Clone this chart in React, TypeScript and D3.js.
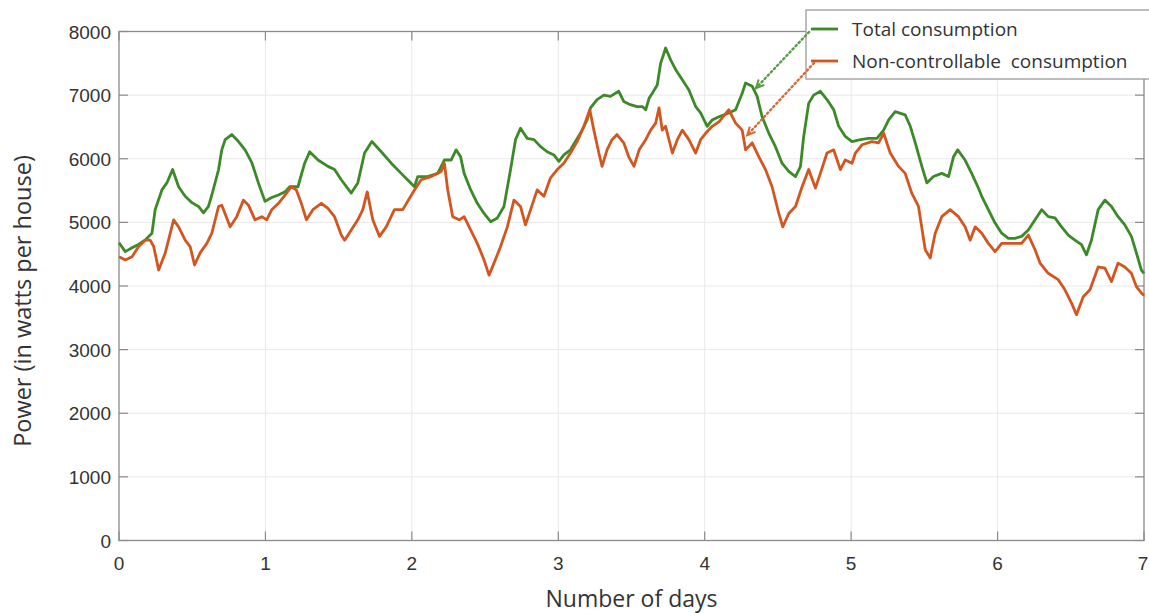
import React from "react";
import * as d3 from "d3";

// Total household consumption over a week (days, watts per house)
const totalDays = [
  0, 0.043, 0.089, 0.13, 0.177, 0.225, 0.247, 0.293, 0.327, 0.366, 0.407, 0.452, 0.498, 0.543, 0.577,
  0.611, 0.634, 0.68, 0.702, 0.725, 0.77, 0.816, 0.861, 0.907, 0.952, 0.997, 1.043, 1.089, 1.134, 1.166,
  1.222, 1.268, 1.302, 1.359, 1.427, 1.472, 1.518, 1.586, 1.631, 1.677, 1.727, 1.791, 1.859, 1.927, 1.984,
  2.018, 2.04, 2.108, 2.177, 2.222, 2.268, 2.302, 2.333, 2.357, 2.402, 2.447, 2.493, 2.538, 2.584, 2.629,
  2.674, 2.708, 2.742, 2.788, 2.834, 2.879, 2.924, 2.97, 3.004, 3.038, 3.083, 3.151, 3.197, 3.22, 3.265,
  3.311, 3.356, 3.413, 3.447, 3.492, 3.538, 3.574, 3.597, 3.62, 3.642, 3.676, 3.699, 3.733, 3.768, 3.802,
  3.847, 3.892, 3.938, 3.972, 4.017, 4.051, 4.097, 4.165, 4.211, 4.256, 4.279, 4.324, 4.358, 4.392, 4.438,
  4.483, 4.528, 4.574, 4.62, 4.654, 4.676, 4.71, 4.744, 4.79, 4.835, 4.881, 4.915, 4.96, 5.006, 5.063,
  5.119, 5.176, 5.222, 5.256, 5.301, 5.369, 5.404, 5.438, 5.483, 5.517, 5.562, 5.619, 5.665, 5.699, 5.728,
  5.778, 5.823, 5.869, 5.892, 5.937, 5.983, 6.028, 6.074, 6.119, 6.164, 6.21, 6.256, 6.301, 6.346, 6.392,
  6.437, 6.483, 6.528, 6.573, 6.607, 6.641, 6.687, 6.733, 6.778, 6.823, 6.869, 6.914, 6.948, 6.982, 7,
];
const totalWatts = [
  4680, 4540, 4600, 4650, 4720, 4830, 5200, 5510, 5620, 5830, 5560, 5410, 5310, 5250, 5150,
  5250, 5430, 5830, 6140, 6300, 6380, 6270, 6140, 5940, 5620, 5330, 5390, 5430, 5480, 5560,
  5560, 5930, 6110, 5980, 5880, 5830, 5670, 5460, 5620, 6090, 6270, 6110, 5930, 5770, 5640,
  5560, 5720, 5720, 5770, 5980, 5980, 6140, 6030, 5770, 5510, 5300, 5140, 5010, 5070, 5250,
  5830, 6300, 6480, 6320, 6300, 6190, 6110, 6060, 5960, 6060, 6140, 6400, 6610, 6800, 6930,
  7000, 6980, 7060, 6900, 6850, 6820, 6820, 6770, 6950, 7030, 7160, 7500, 7740, 7550, 7400,
  7240, 7080, 6820, 6720, 6510, 6610, 6660, 6720, 6770, 7030, 7190, 7140, 6980, 6660, 6400,
  6190, 5930, 5800, 5720, 5880, 6350, 6870, 7000, 7060, 6930, 6770, 6510, 6350, 6270, 6300,
  6320, 6320, 6450, 6610, 6740, 6690, 6510, 6250, 5880, 5620, 5720, 5770, 5720, 6030, 6140,
  5980, 5770, 5540, 5410, 5200, 4990, 4830, 4750, 4750, 4780, 4880, 5040, 5200, 5090, 5070,
  4930, 4800, 4720, 4650, 4490, 4720, 5200, 5350, 5250, 5090, 4960, 4780, 4520, 4250, 4200,
];

// Non-controllable share of the consumption
const baseDays = [
  0, 0.043, 0.089, 0.134, 0.179, 0.213, 0.237, 0.271, 0.316, 0.373, 0.407, 0.452, 0.486, 0.516, 0.554,
  0.6, 0.634, 0.68, 0.702, 0.759, 0.804, 0.85, 0.884, 0.929, 0.975, 1.009, 1.043, 1.089, 1.134, 1.177,
  1.211, 1.245, 1.28, 1.324, 1.382, 1.427, 1.472, 1.518, 1.541, 1.586, 1.631, 1.665, 1.695, 1.733, 1.779,
  1.825, 1.881, 1.938, 1.984, 2.018, 2.063, 2.132, 2.2, 2.222, 2.245, 2.279, 2.324, 2.357, 2.402, 2.447,
  2.493, 2.527, 2.561, 2.606, 2.652, 2.697, 2.742, 2.776, 2.811, 2.856, 2.902, 2.947, 2.993, 3.038, 3.083,
  3.129, 3.175, 3.215, 3.243, 3.277, 3.299, 3.333, 3.367, 3.401, 3.447, 3.481, 3.517, 3.552, 3.597, 3.631,
  3.665, 3.688, 3.71, 3.733, 3.779, 3.813, 3.847, 3.892, 3.938, 3.972, 4.006, 4.051, 4.097, 4.165, 4.211,
  4.256, 4.279, 4.324, 4.37, 4.415, 4.46, 4.506, 4.533, 4.574, 4.62, 4.665, 4.71, 4.756, 4.79, 4.835,
  4.881, 4.926, 4.96, 5.006, 5.029, 5.074, 5.142, 5.187, 5.222, 5.267, 5.324, 5.369, 5.414, 5.46, 5.506,
  5.54, 5.574, 5.619, 5.676, 5.733, 5.778, 5.813, 5.847, 5.892, 5.937, 5.983, 6.028, 6.096, 6.164, 6.21,
  6.256, 6.29, 6.346, 6.414, 6.46, 6.505, 6.539, 6.585, 6.631, 6.687, 6.733, 6.778, 6.823, 6.869, 6.914,
  6.948, 6.982, 7,
];
const baseWatts = [
  4460, 4410, 4460, 4620, 4720, 4720, 4620, 4250, 4520, 5040, 4930, 4720, 4620, 4330, 4520,
  4670, 4830, 5250, 5270, 4930, 5090, 5350, 5270, 5040, 5090, 5040, 5200, 5300, 5430, 5560,
  5510, 5300, 5040, 5200, 5300, 5220, 5090, 4800, 4720, 4880, 5040, 5200, 5480, 5040, 4780,
  4930, 5200, 5200, 5380, 5510, 5670, 5720, 5800, 5930, 5510, 5090, 5040, 5090, 4880, 4670,
  4410, 4170, 4360, 4620, 4930, 5350, 5250, 4960, 5200, 5510, 5410, 5700, 5830, 5930, 6090,
  6270, 6510, 6770, 6450, 6090, 5880, 6140, 6300, 6380, 6250, 6030, 5880, 6140, 6300, 6450,
  6560, 6800, 6450, 6510, 6090, 6300, 6450, 6300, 6090, 6300, 6400, 6510, 6580, 6770, 6560,
  6450, 6140, 6250, 6030, 5830, 5560, 5140, 4930, 5140, 5250, 5560, 5830, 5540, 5770, 6090,
  6140, 5830, 5980, 5930, 6090, 6220, 6270, 6250, 6400, 6090, 5880, 5770, 5460, 5250, 4570,
  4440, 4830, 5090, 5200, 5090, 4930, 4720, 4930, 4830, 4670, 4540, 4670, 4670, 4670, 4800,
  4570, 4360, 4200, 4100, 3940, 3730, 3550, 3830, 3940, 4300, 4280, 4070, 4360, 4300, 4200,
  3990, 3890, 3850,
];

const xTicks = [0, 1, 2, 3, 4, 5, 6, 7];
const yTicks = [0, 1000, 2000, 3000, 4000, 5000, 6000, 7000, 8000];

const legendLabels = ["Total consumption", "Non-controllable  consumption"];

const W = 1149;
const H = 613;
const plot = { left: 119, right: 1144, top: 31.5, bottom: 540.5 };

const GREEN = "#3b8a27";
const ORANGE = "#d25620";
const AXIS = "#8a8a8a";
const TEXT = "#333333";

export default function App() {
  const x = d3.scaleLinear().domain([0, 7]).range([plot.left, plot.right]);
  const y = d3.scaleLinear().domain([0, 8000]).range([plot.bottom, plot.top]);

  const line = d3
    .line<[number, number]>()
    .x((d) => x(d[0]))
    .y((d) => y(d[1]));

  const totalPts = totalDays.map((d, i) => [d, totalWatts[i]] as [number, number]);
  const basePts = baseDays.map((d, i) => [d, baseWatts[i]] as [number, number]);

  // legend geometry
  const lg = { x: 806, y: 10, w: 360, h: 69 };
  const row1 = 29;
  const row2 = 61;

  // annotation arrows from the legend keys to the curves
  const greenTip = [x(4.35), y(7110)];
  const orangeTip = [x(4.29), y(6370)];
  const greenTail = [809, row1 + 3];
  const orangeTail = [814, row2 + 2];

  const arrowHead = (tail: number[], tip: number[], color: string) => {
    const ang = Math.atan2(tip[1] - tail[1], tip[0] - tail[0]);
    const len = 9;
    const spread = 0.45;
    const p1 = [tip[0] - len * Math.cos(ang - spread), tip[1] - len * Math.sin(ang - spread)];
    const p2 = [tip[0] - len * Math.cos(ang + spread), tip[1] - len * Math.sin(ang + spread)];
    return (
      <polyline
        points={`${p1[0]},${p1[1]} ${tip[0]},${tip[1]} ${p2[0]},${p2[1]}`}
        fill="none"
        stroke={color}
        strokeWidth={2}
      />
    );
  };

  return (
    <div style={{ position: "absolute", left: 0, top: 0 }}>
      <svg width={W} height={H} style={{ display: "block", background: "#fff" }}>
        {/* grid */}
        <g stroke="#e9e9e9" strokeWidth={1}>
          {xTicks.slice(1, -1).map((t) => (
            <line key={"gx" + t} x1={x(t)} x2={x(t)} y1={plot.top} y2={plot.bottom} />
          ))}
          {yTicks.slice(1, -1).map((t) => (
            <line key={"gy" + t} x1={plot.left} x2={plot.right} y1={y(t)} y2={y(t)} />
          ))}
        </g>

        {/* box and ticks */}
        <rect
          x={plot.left}
          y={plot.top}
          width={plot.right - plot.left}
          height={plot.bottom - plot.top}
          fill="none"
          stroke={AXIS}
          strokeWidth={1.3}
        />
        <g stroke={AXIS} strokeWidth={1.2}>
          {xTicks.map((t) => (
            <g key={"tx" + t}>
              <line x1={x(t)} x2={x(t)} y1={plot.bottom} y2={plot.bottom - 9} />
              <line x1={x(t)} x2={x(t)} y1={plot.top} y2={plot.top + 9} />
            </g>
          ))}
          {yTicks.map((t) => (
            <g key={"ty" + t}>
              <line x1={plot.left} x2={plot.left + 9} y1={y(t)} y2={y(t)} />
              <line x1={plot.right} x2={plot.right - 9} y1={y(t)} y2={y(t)} />
            </g>
          ))}
        </g>

        {/* series */}
        <path d={line(totalPts) ?? ""} fill="none" stroke={GREEN} strokeWidth={2.8} strokeLinejoin="round" />
        <path d={line(basePts) ?? ""} fill="none" stroke={ORANGE} strokeWidth={2.8} strokeLinejoin="round" />

        {/* tick labels */}
        <g fontFamily="'Liberation Sans', Arial, sans-serif" fontSize={19} fill={TEXT}>
          {xTicks.map((t, i) => (
            <text
              key={"lx" + t}
              x={i === xTicks.length - 1 ? x(t) - 1 : x(t)}
              y={plot.bottom + 29}
              textAnchor="middle"
            >
              {t}
            </text>
          ))}
          {yTicks.map((t) => (
            <text key={"ly" + t} x={plot.left - 8} y={y(t) + 7} textAnchor="end">
              {t}
            </text>
          ))}
        </g>

        {/* axis titles */}
        <text
          x={(plot.left + plot.right) / 2}
          y={607}
          textAnchor="middle"
          fontFamily="'Open Sans', sans-serif"
          fontSize={23}
          fill={TEXT}
        >
          Number of days
        </text>
        <text
          transform={`translate(31, 301) rotate(-90)`}
          textAnchor="middle"
          fontFamily="'Open Sans', sans-serif"
          fontSize={23.5}
          fill={TEXT}
        >
          Power (in watts per house)
        </text>

        {/* legend */}
        <rect x={lg.x} y={lg.y} width={lg.w} height={lg.h} fill="#fff" stroke="#9a9a9a" strokeWidth={1.3} />
        <line x1={811} x2={838} y1={row1} y2={row1} stroke={GREEN} strokeWidth={2.8} />
        <line x1={811} x2={838} y1={row2} y2={row2} stroke={ORANGE} strokeWidth={2.8} />
        <g fontFamily="'Open Sans', sans-serif" fontSize={19} fill={TEXT}>
          <text x={852} y={row1 + 7} xmlSpace="preserve" style={{ whiteSpace: "pre" }}>
            {legendLabels[0]}
          </text>
          <text x={852} y={row2 + 7} xmlSpace="preserve" style={{ whiteSpace: "pre" }}>
            {legendLabels[1]}
          </text>
        </g>

        {/* dotted leaders */}
        <line
          x1={greenTail[0]}
          y1={greenTail[1]}
          x2={greenTip[0]}
          y2={greenTip[1]}
          stroke="#5a9a45"
          strokeWidth={2.4}
          strokeDasharray="1.5 3"
          strokeLinecap="round"
        />
        {arrowHead(greenTail, greenTip, "#5a9a45")}
        <line
          x1={orangeTail[0]}
          y1={orangeTail[1]}
          x2={orangeTip[0]}
          y2={orangeTip[1]}
          stroke="#d56a35"
          strokeWidth={2.4}
          strokeDasharray="1.5 3"
          strokeLinecap="round"
        />
        {arrowHead(orangeTail, orangeTip, "#d56a35")}
      </svg>
    </div>
  );
}
